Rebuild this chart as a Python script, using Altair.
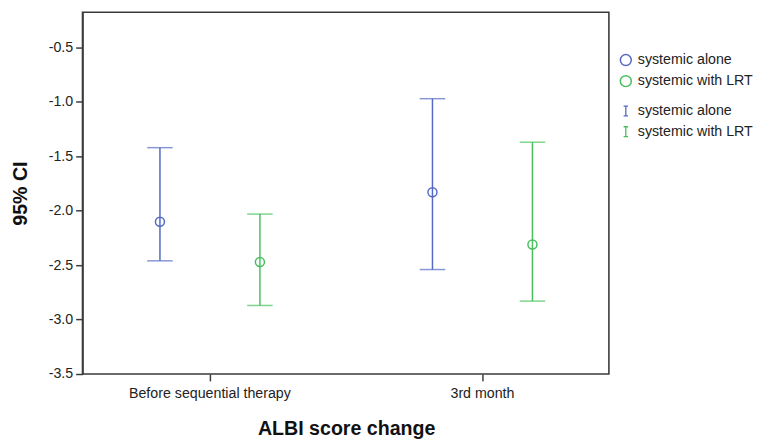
import altair as alt
import pandas as pd

categories = ["Before sequential therapy", "3rd month"]
groups = ["systemic alone", "systemic with LRT"]
colors = ["#5468c4", "#47c05c"]

mean_alone = [-2.10, -1.83]
lower_alone = [-2.46, -2.54]
upper_alone = [-1.42, -0.97]

mean_lrt = [-2.47, -2.31]
lower_lrt = [-2.87, -2.83]
upper_lrt = [-2.03, -1.37]

y_ticks = [-3.5, -3.0, -2.5, -2.0, -1.5, -1.0, -0.5]

rows = []
for i, c in enumerate(categories):
    rows.append(dict(cat=c, group=groups[0], group_ci=groups[0], mean=mean_alone[i], lo=lower_alone[i], hi=upper_alone[i]))
    rows.append(dict(cat=c, group=groups[1], group_ci=groups[1], mean=mean_lrt[i], lo=lower_lrt[i], hi=upper_lrt[i]))
df = pd.DataFrame(rows)

FONT = "Liberation Sans"

x_enc = alt.X("cat:N", sort=categories,
              scale=alt.Scale(paddingInner=0, paddingOuter=0, range=[-9, 547]),
              axis=alt.Axis(title="ALBI score change", labelAngle=0, domain=False))
xoff = alt.XOffset("group:N", sort=groups, scale=alt.Scale(paddingInner=0, paddingOuter=0.363))
yscale = alt.Scale(domain=[-3.5, -0.176], nice=False, zero=False)

base = alt.Chart(df)

rules = base.mark_rule(strokeWidth=1.5).encode(
    x=x_enc, xOffset=xoff,
    y=alt.Y("lo:Q", scale=yscale,
            axis=alt.Axis(title="95% CI", values=y_ticks, format=".1f", grid=False,
                          labelExpr="replace(datum.label, '\u2212', '-')")),
    y2="hi:Q",
    stroke=alt.Stroke("group_ci:N", sort=groups,
                      scale=alt.Scale(domain=groups, range=colors),
                      legend=alt.Legend(title=None, orient="none", legendX=547, legendY=93.5,
                                        symbolType="M-0.45,-1L0.45,-1M0,-1L0,1M-0.45,1L0.45,1",
                                        symbolSize=100, symbolStrokeWidth=1.3,
                                        labelFontSize=14.5, labelFont=FONT, labelColor="#222",
                                        labelOffset=5, rowPadding=5, symbolOffset=0)),
)

caps_lo = base.mark_tick(size=26, thickness=1.5).encode(
    x=x_enc, xOffset=xoff,
    y=alt.Y("lo:Q", scale=yscale),
    fill=alt.Fill("group_ci:N", scale=alt.Scale(domain=groups, range=colors), legend=None),
)
caps_hi = base.mark_tick(size=26, thickness=1.5).encode(
    x=x_enc, xOffset=xoff,
    y=alt.Y("hi:Q", scale=yscale),
    fill=alt.Fill("group_ci:N", scale=alt.Scale(domain=groups, range=colors), legend=None),
)

points = base.mark_point(shape="circle", filled=False, size=85, strokeWidth=1.5, opacity=1).encode(
    x=x_enc, xOffset=xoff,
    y=alt.Y("mean:Q", scale=yscale),
    color=alt.Color("group:N", sort=groups,
                    scale=alt.Scale(domain=groups, range=colors),
                    legend=alt.Legend(title=None, orient="none", legendX=547, legendY=41.5,
                                      symbolType="circle", symbolSize=125, symbolStrokeWidth=1.5,
                                      labelFontSize=14.5, labelFont=FONT, labelColor="#222",
                                      labelOffset=5, rowPadding=3.5)),
)

chart = alt.layer(rules, caps_lo, caps_hi, points).resolve_scale(
    color="independent", stroke="independent", fill="independent"
).properties(
    width=537, height=369, background="white",
    padding={"left": 3, "top": 0, "right": 0, "bottom": 0}
).configure_view(
    stroke="#3a3a3a", strokeWidth=1.6
).configure_axis(
    labelFont=FONT, titleFont=FONT, labelFontSize=14.5, labelColor="#222",
    titleFontSize=20, titleFontWeight="bold", titleColor="#111",
    domainColor="#3a3a3a", domainWidth=1.6, tickColor="#3a3a3a", tickWidth=1.5,
    tickSize=7, labelPadding=3
).configure_axisY(
    titlePadding=18
).configure_axisX(
    labelPadding=6, titlePadding=19
)

chart.save("out.html", embed_options={"renderer": "svg", "actions": False})
